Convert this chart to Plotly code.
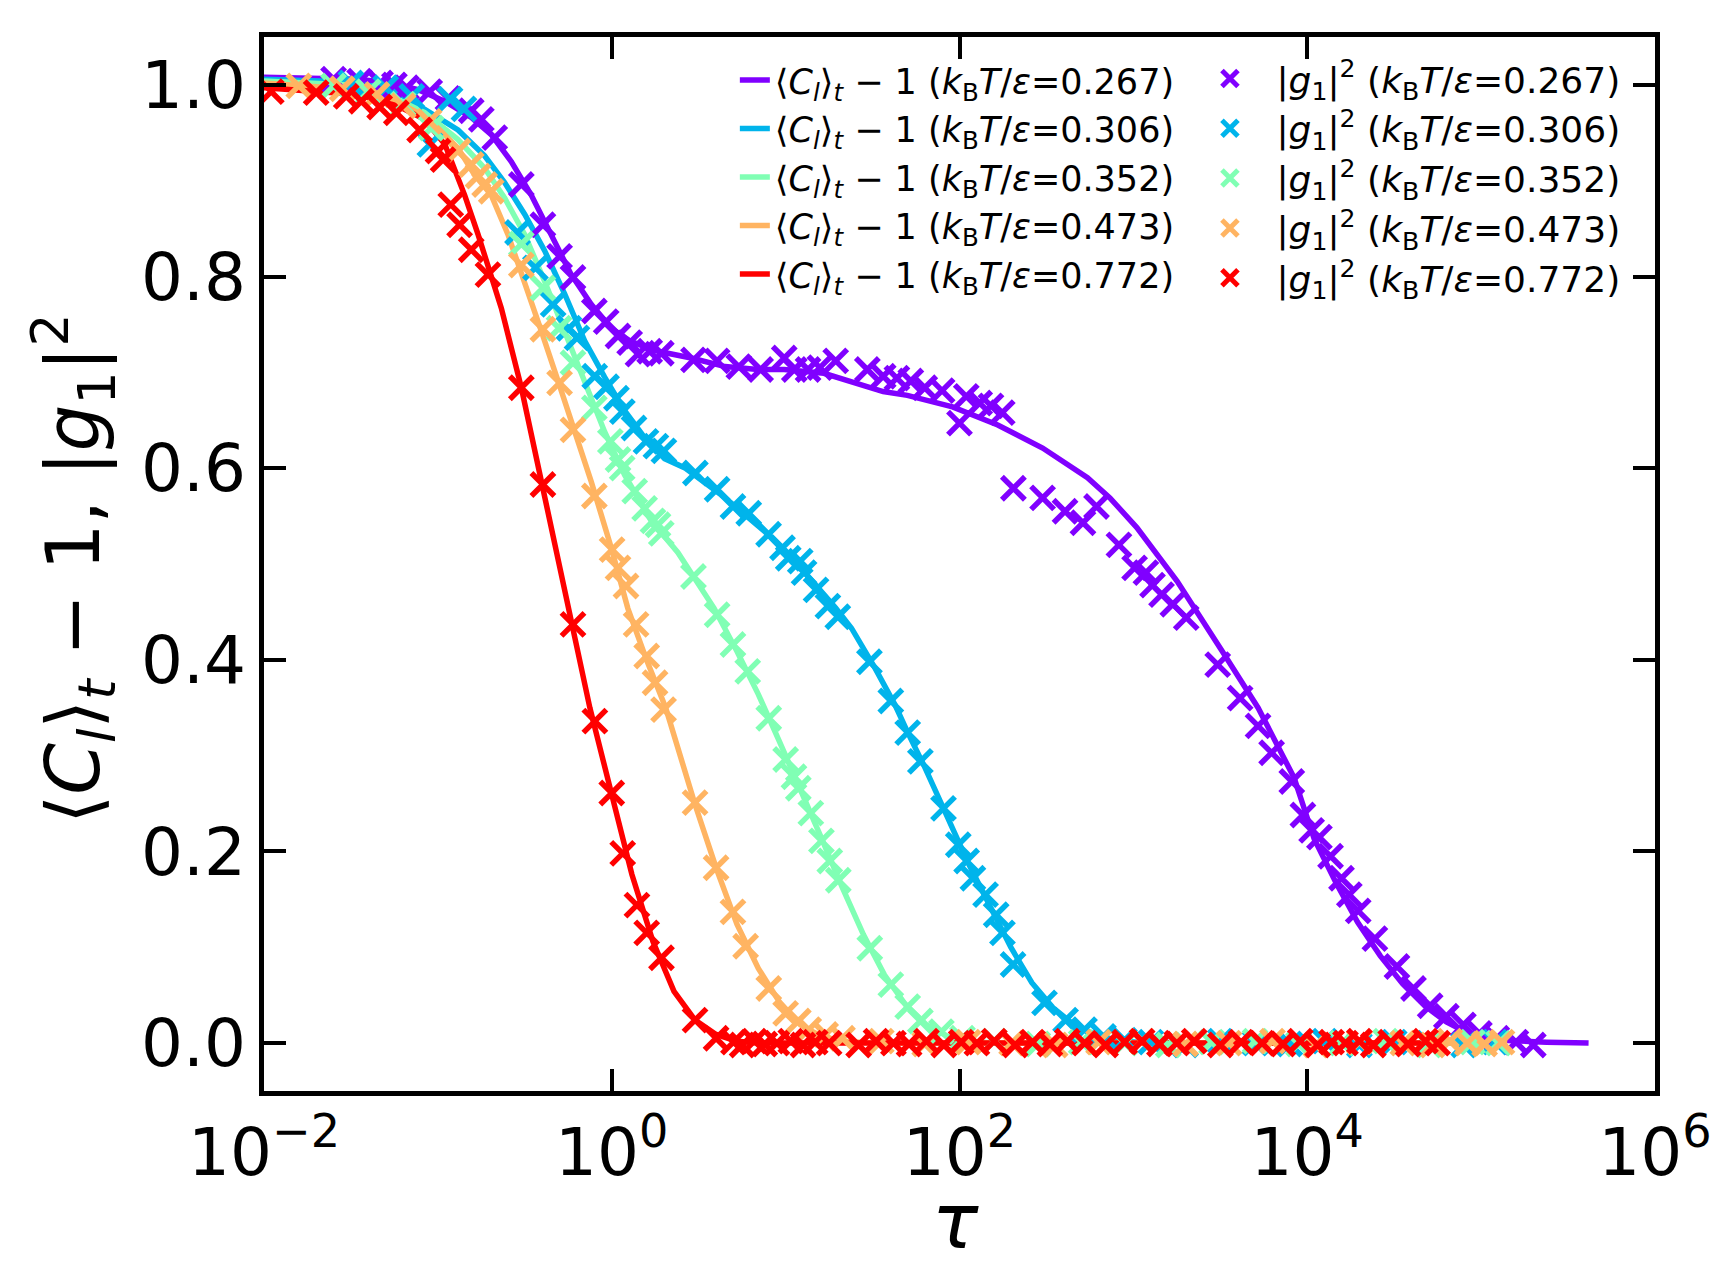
import numpy as np
import plotly.graph_objects as go

# temperatures (k_B T / epsilon) and rainbow colours
temps = ["0.267", "0.306", "0.352", "0.473", "0.772"]
colors = ["#8000ff", "#00b4eb", "#80ffb4", "#ffb462", "#ff0000"]

# ---- <C_l>_t - 1 curves (log10 tau, value) ----
line_logtau_267 = [-2.0, -1.46, -1.27, -1.114, -0.961, -0.808, -0.693, -0.578, -0.463, -0.348, -0.233, -0.118,
                   -0.003, 0.112, 0.266, 0.457, 0.652, 0.84, 0.992, 1.22, 1.447, 1.561, 1.70, 1.96, 2.22, 2.478,
                   2.736, 2.865, 3.02, 3.252, 3.511, 3.717, 3.924, 4.04, 4.166, 4.29, 4.42, 4.548, 4.675, 4.80,
                   4.93, 5.12, 5.376, 5.618]
line_val_267 = [1.008, 1.006, 1.002, 0.995, 0.983, 0.966, 0.948, 0.920, 0.885, 0.844, 0.802, 0.771,
                0.746, 0.732, 0.722, 0.715, 0.706, 0.703, 0.703, 0.699, 0.687, 0.680, 0.676, 0.664, 0.645, 0.621,
                0.590, 0.569, 0.538, 0.482, 0.409, 0.350, 0.277, 0.213, 0.167, 0.126, 0.091, 0.062, 0.039, 0.022,
                0.010, 0.003, 0.001, 0.0]

line_logtau_306 = [-2.0, -1.5, -1.25, -1.076, -0.884, -0.731, -0.616, -0.501, -0.386, -0.271, -0.156, -0.041,
                   0.074, 0.189, 0.304, 0.424, 0.652, 0.879, 1.106, 1.288, 1.379, 1.515, 1.629, 1.70, 1.80,
                   1.93, 2.05, 2.17, 2.295, 2.416, 2.537, 2.659, 2.78, 2.90, 3.02, 3.5, 4.0, 4.5, 5.1]
line_val_306 = [1.006, 1.003, 0.994, 0.975, 0.953, 0.926, 0.898, 0.865, 0.827, 0.782, 0.733, 0.695,
                0.660, 0.632, 0.610, 0.600, 0.569, 0.534, 0.492, 0.454, 0.433, 0.391, 0.353, 0.325, 0.288,
                0.236, 0.188, 0.145, 0.100, 0.063, 0.037, 0.019, 0.009, 0.003, 0.001, 0.0, 0.0, 0.0, 0.0]

line_logtau_352 = [-2.0, -1.5, -1.27, -1.076, -0.884, -0.731, -0.616, -0.501, -0.386, -0.271, -0.156, -0.041,
                   0.074, 0.227, 0.38, 0.47, 0.588, 0.72, 0.843, 0.964, 1.085, 1.206, 1.327, 1.448, 1.569,
                   1.69, 1.811, 1.932, 2.05, 2.2, 3.0, 4.0, 5.1]
line_val_352 = [1.004, 1.000, 0.988, 0.971, 0.943, 0.913, 0.882, 0.844, 0.795, 0.743, 0.691, 0.638,
                0.593, 0.545, 0.512, 0.487, 0.454, 0.409, 0.364, 0.315, 0.266, 0.214, 0.162, 0.113, 0.071,
                0.040, 0.019, 0.007, 0.002, 0.0, 0.0, 0.0, 0.0]

line_logtau_473 = [-2.0, -1.46, -1.27, -1.114, -1.0, -0.884, -0.789, -0.693, -0.597, -0.501, -0.405, -0.309,
                   -0.213, -0.118, -0.003, 0.092, 0.20, 0.31, 0.479, 0.60, 0.72, 0.843, 0.964, 1.085, 1.206,
                   1.327, 1.5, 2.5, 3.5, 4.5, 5.15]
line_val_473 = [1.002, 0.995, 0.986, 0.971, 0.955, 0.934, 0.906, 0.885, 0.844, 0.795, 0.743, 0.691,
                0.638, 0.586, 0.517, 0.454, 0.400, 0.350, 0.249, 0.183, 0.124, 0.078, 0.043, 0.019, 0.007,
                0.002, 0.0, 0.0, 0.0, 0.0, 0.0]

line_logtau_772 = [-2.0, -1.46, -1.23, -1.076, -0.96, -0.846, -0.769, -0.693, -0.635, -0.52, -0.405, -0.319,
                   -0.247, -0.126, -0.005, 0.116, 0.237, 0.358, 0.479, 0.60, 0.72, 0.84, 2.0, 3.0, 4.0, 4.75]
line_val_772 = [0.997, 0.990, 0.978, 0.964, 0.938, 0.885, 0.844, 0.802, 0.767, 0.684, 0.586, 0.517,
                0.454, 0.350, 0.263, 0.176, 0.106, 0.054, 0.024, 0.009, 0.002, 0.0, 0.0, 0.0, 0.0, 0.0]

# ---- |g_1|^2 markers (log10 tau, value) ----
mk_logtau_267 = [-1.60, -1.45, -1.33, -1.25, -1.18, -1.047, -0.942, -0.808, -0.75, -0.673, -0.52, -0.396,
                 -0.30, -0.223, -0.10, -0.032, 0.036, 0.103, 0.151, 0.218, 0.285, 0.47, 0.606, 0.731, 0.856,
                 0.992, 1.05, 1.129, 1.197, 1.288, 1.47, 1.561, 1.64, 1.72, 1.80, 1.90, 2.00, 2.039, 2.116,
                 2.181, 2.246, 2.31, 2.478, 2.607, 2.71, 2.788, 2.917, 3.007, 3.072, 3.11, 3.162, 3.227,
                 3.304, 3.485, 3.614, 3.717, 3.795, 3.911, 3.975, 4.025, 4.07, 4.134, 4.197, 4.242, 4.293,
                 4.389, 4.516, 4.611, 4.707, 4.80, 4.898, 4.99, 5.09, 5.20, 5.30]
mk_val_267 = [1.006, 1.004, 1.002, 1.000, 0.997, 0.993, 0.986, 0.973, 0.964, 0.945, 0.896, 0.854,
              0.821, 0.799, 0.764, 0.753, 0.738, 0.731, 0.719, 0.722, 0.720, 0.713, 0.712, 0.706, 0.703,
              0.715, 0.703, 0.703, 0.705, 0.712, 0.703, 0.696, 0.694, 0.691, 0.684, 0.681, 0.647, 0.675, 0.668,
              0.665, 0.658, 0.579, 0.569, 0.555, 0.543, 0.560, 0.520, 0.496, 0.491, 0.478, 0.468, 0.458,
              0.444, 0.395, 0.360, 0.331, 0.303, 0.273, 0.238, 0.222, 0.215, 0.195, 0.172, 0.155, 0.138,
              0.109, 0.080, 0.057, 0.039, 0.028, 0.019, 0.010, 0.005, 0.001, -0.002]

mk_logtau_306 = [-1.50, -1.30, -1.15, -1.046, -0.93, -0.85, -0.542, -0.439, -0.337, -0.246, -0.200, -0.098,
                 -0.030, 0.027, 0.061, 0.128, 0.197, 0.254, 0.300, 0.481, 0.606, 0.697, 0.788, 0.902, 0.982,
                 1.015, 1.084, 1.106, 1.175, 1.243, 1.300, 1.482, 1.605, 1.702, 1.775, 1.908, 1.993, 2.041,
                 2.077, 2.150, 2.211, 2.247, 2.308, 2.489, 2.610, 2.719, 2.828, 2.949, 3.10, 3.30, 3.50, 3.70,
                 3.90, 4.10, 4.30, 4.50, 4.70, 4.90, 5.08]
mk_val_306 = [1.002, 0.997, 0.988, 0.938, 0.985, 0.975, 0.846, 0.809, 0.771, 0.746, 0.736, 0.696,
              0.685, 0.673, 0.659, 0.642, 0.628, 0.623, 0.618, 0.595, 0.578, 0.560, 0.553, 0.531, 0.517,
              0.506, 0.503, 0.491, 0.473, 0.456, 0.445, 0.398, 0.357, 0.324, 0.294, 0.245, 0.207, 0.190,
              0.172, 0.155, 0.134, 0.115, 0.082, 0.042, 0.024, 0.014, 0.007, 0.003, 0.001, -0.002, 0.002, 0.0,
              -0.001, 0.002, -0.002, 0.001, 0.0, -0.002, 0.001]

mk_logtau_352 = [-1.60, -1.40, -1.20, -1.038, -0.52, -0.396, -0.303, -0.223, -0.10, -0.008, 0.036, 0.06,
                 0.132, 0.189, 0.237, 0.266, 0.285, 0.47, 0.606, 0.697, 0.782, 0.903, 1.000, 1.048, 1.073,
                 1.145, 1.206, 1.254, 1.303, 1.484, 1.605, 1.702, 1.775, 1.896, 2.017, 2.20, 2.45, 2.70, 2.95,
                 3.20, 3.45, 3.70, 3.95, 4.20, 4.45, 4.70, 4.95, 5.10]
mk_val_352 = [0.999, 0.993, 0.980, 0.955, 0.834, 0.788, 0.746, 0.710, 0.663, 0.628, 0.609, 0.600,
              0.576, 0.558, 0.545, 0.541, 0.532, 0.487, 0.447, 0.416, 0.388, 0.339, 0.296, 0.278, 0.266,
              0.240, 0.211, 0.190, 0.170, 0.099, 0.061, 0.038, 0.023, 0.012, 0.005, 0.002, -0.001, 0.001, 0.0,
              -0.002, 0.001, 0.002, -0.001, 0.0, 0.002, -0.002, 0.001, 0.0]

mk_logtau_473 = [-1.80, -1.55, -1.35, -1.20, -1.05, -0.884, -0.808, -0.769, -0.731, -0.693, -0.52, -0.396,
                 -0.30, -0.223, -0.10, 0.002, 0.036, 0.082, 0.140, 0.201, 0.249, 0.298, 0.479, 0.60, 0.697,
                 0.770, 0.903, 1.000, 1.073, 1.133, 1.23, 1.327, 1.55, 1.80, 2.05, 2.30, 2.55, 2.80, 3.05,
                 3.30, 3.55, 3.80, 4.05, 4.30, 4.55, 4.72, 4.82, 4.92, 5.02, 5.12]
mk_val_473 = [0.999, 0.996, 0.990, 0.978, 0.962, 0.931, 0.917, 0.905, 0.896, 0.889, 0.812, 0.745,
              0.689, 0.640, 0.571, 0.515, 0.496, 0.477, 0.437, 0.404, 0.376, 0.348, 0.251, 0.183, 0.137,
              0.101, 0.057, 0.031, 0.023, 0.014, 0.009, 0.005, 0.002, -0.001, 0.001, 0.0, -0.002, 0.001, 0.002,
              -0.001, 0.0, 0.002, -0.002, 0.001, 0.0, -0.002, 0.002, 0.0, -0.001, 0.001]

mk_logtau_772 = [-1.958, -1.70, -1.527, -1.44, -1.335, -1.239, -1.105, -0.999, -0.97, -0.926, -0.875, -0.808,
                 -0.712, -0.52, -0.396, -0.223, -0.097, 0.0, 0.063, 0.145, 0.201, 0.286, 0.479, 0.60,
                 0.70, 0.75, 0.82, 0.88, 0.95, 1.03, 1.10, 1.17, 1.25, 1.42, 1.52, 1.62, 1.71, 1.81, 1.91,
                 2.01, 2.10, 2.20, 2.32, 2.42, 2.52, 2.62, 2.72, 2.84, 2.95, 3.05, 3.15, 3.25, 3.35, 3.50,
                 3.62, 3.74, 3.86, 3.96, 4.06, 4.14, 4.22, 4.30, 4.38, 4.48, 4.58, 4.68, 4.75]
mk_val_772 = [0.993, 0.992, 0.988, 0.983, 0.977, 0.971, 0.953, 0.931, 0.922, 0.875, 0.854, 0.828,
              0.802, 0.684, 0.583, 0.437, 0.336, 0.261, 0.198, 0.144, 0.115, 0.089, 0.024, 0.005,
              0.001, -0.002, 0.002, -0.001, 0.0, 0.002, -0.002, 0.001, 0.0, -0.002, 0.002, 0.0, -0.001,
              0.002, -0.002, 0.001, 0.0, 0.002, -0.002, 0.001, -0.001, 0.002, 0.0, -0.002, 0.001, 0.002,
              -0.001, 0.0, 0.002, -0.002, 0.001, 0.0, -0.001, 0.002, -0.002, 0.001, 0.0, 0.002, -0.002,
              0.001, -0.001, 0.002, 0.0]

lines = [(line_logtau_267, line_val_267), (line_logtau_306, line_val_306), (line_logtau_352, line_val_352),
         (line_logtau_473, line_val_473), (line_logtau_772, line_val_772)]
markers = [(mk_logtau_267, mk_val_267), (mk_logtau_306, mk_val_306), (mk_logtau_352, mk_val_352),
           (mk_logtau_473, mk_val_473), (mk_logtau_772, mk_val_772)]

kT = "(<i>k</i><sub>B</sub><i>T</i>/<i>ε</i>=%s)"
line_name = "⟨<i>C</i><sub><i>l</i></sub>⟩<sub><i>t</i></sub> − 1 " + kT
mk_name = "|<i>g</i><sub>1</sub>|<sup>2</sup> " + kT

fig = go.Figure()

for (lt, v), T, c in zip(lines, temps, colors):
    fig.add_trace(go.Scatter(x=10 ** np.array(lt), y=v, mode="lines", name=line_name % T,
                             line=dict(color=c, width=5.5), legend="legend"))

for (lt, v), T, c in zip(markers, temps, colors):
    fig.add_trace(go.Scatter(x=10 ** np.array(lt), y=v, mode="markers", name=mk_name % T,
                             marker=dict(symbol="x-thin", size=23, color=c, line=dict(color=c, width=5.5)),
                             legend="legend2"))

axis_style = dict(showline=True, linewidth=4.5, linecolor="black", mirror="ticks", ticks="inside",
                  ticklen=22, tickwidth=4, tickcolor="black", showgrid=False, zeroline=False,
                  tickfont=dict(size=66, color="black"))

fig.update_xaxes(type="log", range=[-2, 6], tickvals=[1e-2, 1, 1e2, 1e4, 1e6],
                 ticktext=["10<sup>−2</sup>", "10<sup>0</sup>", "10<sup>2</sup>", "10<sup>4</sup>", "10<sup>6</sup>"],
                 **axis_style)
fig.update_yaxes(range=[-0.05, 1.05], tickvals=[0, 0.2, 0.4, 0.6, 0.8, 1.0],
                 ticktext=["0.0", "0.2", "0.4", "0.6", "0.8", "1.0"], **axis_style)

fig.update_layout(
    width=1734, height=1283,
    margin=dict(l=256, r=87, t=29, b=200),
    plot_bgcolor="white", paper_bgcolor="white",
    font=dict(family="DejaVu Sans", color="black"),
    legend=dict(x=0.3385, y=0.987, xanchor="left", yanchor="top", bgcolor="rgba(0,0,0,0)",
                font=dict(size=35), tracegroupgap=0, itemwidth=30),
    legend2=dict(x=0.661, y=0.989, xanchor="left", yanchor="top", bgcolor="rgba(0,0,0,0)",
                 font=dict(size=36), tracegroupgap=0, itemwidth=83),
    annotations=[
        dict(text="⟨<i>C</i><sub><i>l</i></sub>⟩<sub><i>t</i></sub> − 1, |<i>g</i><sub>1</sub>|<sup>2</sup>",
             xref="paper", yref="paper", x=-0.137, y=0.496, xanchor="center", yanchor="middle",
             textangle=-90, showarrow=False, font=dict(size=74)),
        dict(text="<i>τ</i>", xref="paper", yref="paper", x=0.497, y=-0.124, xanchor="center",
             yanchor="middle", showarrow=False, font=dict(size=77)),
    ],
)

fig.write_html("out.html")
